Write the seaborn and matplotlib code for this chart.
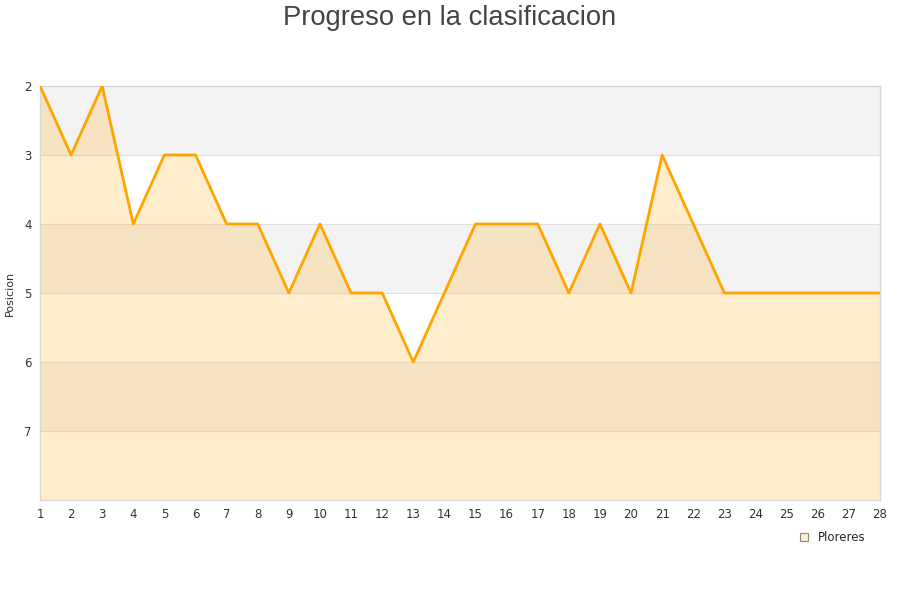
import matplotlib
matplotlib.use("Agg")
import matplotlib.pyplot as plt
import seaborn as sns
import pandas as pd
from matplotlib.patches import Patch

# Data
jornadas = list(range(1, 29))
posicion = [2, 3, 2, 4, 3, 3, 4, 4, 5, 4, 5, 5, 6, 5, 4, 4, 4, 5, 4, 5, 3, 4, 5, 5, 5, 5, 5, 5]
equipo = "Ploreres"
yticks = [2, 3, 4, 5, 6, 7]

df = pd.DataFrame({"jornada": jornadas, "posicion": posicion})

sns.set_style("white")
plt.rcParams['font.family'] = ['DejaVu Sans']

fig = plt.figure(figsize=(9, 6), dpi=100)
ax = fig.add_axes([0.0444, 0.1667, 0.9333, 0.69])

# alternating bands
for lo in [2, 4, 6]:
    ax.axhspan(lo, lo + 1, color="#f3f3f3", zorder=0, lw=0)
for y in range(3, 8):
    ax.axhline(y, color="#e0e0e0", lw=0.8, zorder=1)

ax.fill_between(df["jornada"], df["posicion"], 8, color="orange", alpha=0.2, lw=0, zorder=2)
sns.lineplot(data=df, x="jornada", y="posicion", color="#ffa500", lw=2.0, ax=ax, zorder=3)

ax.set_xlim(1, 28)
ax.set_ylim(8, 2)
ax.set_xticks(jornadas)
ax.set_yticks(yticks)
ax.tick_params(labelsize=8.5, colors="#333333", length=0, pad=6)
ax.set_xlabel("")
ax.set_ylabel("Posicion", fontsize=8, color="#333333")
ax.yaxis.set_label_coords(-0.03, 0.5)
for s in ax.spines.values():
    s.set_color("#d8d8d8")
    s.set_linewidth(1)

fig.suptitle("Progreso en la clasificacion", fontsize=19.7, color="#444444", y=0.992,
             family=["Liberation Sans", "DejaVu Sans"])

handle = Patch(facecolor="#ffedcc", edgecolor="#888888", lw=0.8)
fig.legend([handle], [equipo], loc="center", bbox_to_anchor=(0.925, 0.104),
           frameon=False, fontsize=8.5, handlelength=0.7, handleheight=0.7,
           handletextpad=0.8)

fig.savefig("out.png", dpi=100)
